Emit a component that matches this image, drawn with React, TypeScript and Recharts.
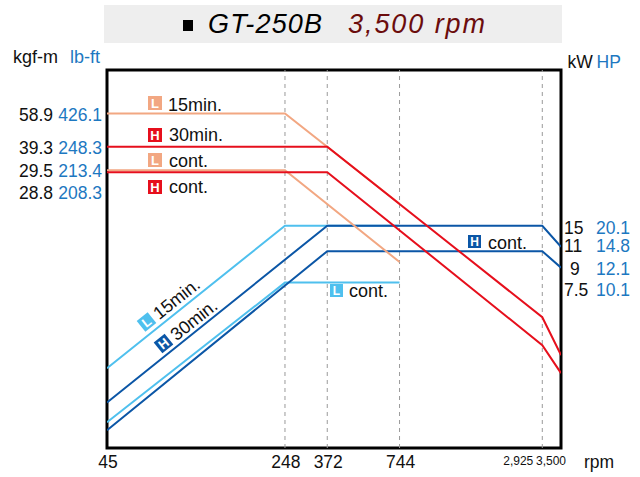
import { LineChart, Line, XAxis, YAxis, ReferenceLine, ReferenceArea } from "recharts";

// rpm axis
const rpmTicks = [45, 248, 372, 744, 2925, 3500];
const rpmLabels = ["45", "248", "372", "744", "2,925", "3,500"];
const gridRpm = [248, 372, 744, 2925];

// left axis: torque (kgf-m / lb-ft)
const torqueTicks = [58.9, 39.3, 29.5, 28.8];
const torqueLbft = ["426.1", "248.3", "213.4", "208.3"];

// right axis: power (kW / HP)
const powerTicks = [15, 11, 9, 7.5];
const powerHp = ["20.1", "14.8", "12.1", "10.1"];

// torque curves (kgf-m)
const torqueL15 = [
  { rpm: 45, v: 58.9 },
  { rpm: 248, v: 58.9 },
  { rpm: 744, v: 19.6 },
];
const torqueH30 = [
  { rpm: 45, v: 39.3 },
  { rpm: 372, v: 39.3 },
  { rpm: 2925, v: 4.92 },
  { rpm: 3500, v: 3.1 },
];
const torqueLCont = [
  { rpm: 45, v: 29.5 },
  { rpm: 248, v: 29.5 },
  { rpm: 744, v: 9.64 },
];
const torqueHCont = [
  { rpm: 45, v: 28.8 },
  { rpm: 372, v: 28.8 },
  { rpm: 2925, v: 3.5 },
  { rpm: 3500, v: 2.49 },
];

// power curves (kW)
const powerL15 = [
  { rpm: 45, v: 2.64 },
  { rpm: 248, v: 15 },
  { rpm: 744, v: 15 },
];
const powerH30 = [
  { rpm: 45, v: 1.74 },
  { rpm: 372, v: 15 },
  { rpm: 2925, v: 15 },
  { rpm: 3500, v: 11.6 },
];
const powerLCont = [
  { rpm: 45, v: 1.37 },
  { rpm: 248, v: 7.5 },
  { rpm: 744, v: 7.5 },
];
const powerHCont = [
  { rpm: 45, v: 1.24 },
  { rpm: 372, v: 11 },
  { rpm: 2925, v: 11 },
  { rpm: 3500, v: 9 },
];

const FONT = '"Liberation Sans", Arial, Helvetica, sans-serif';
const SALMON = "#f2a782";
const RED = "#e60f1c";
const LIGHT = "#4fc0ee";
const DARK = "#0b56a6";
const BLUE_TXT = "#1d78c1";
const INK = "#111";

// label nudges so stacked labels don't collide (same as the original sheet)
const leftNudge: Record<number, number> = { 58.9: 1.5, 39.3: 1.3, 29.5: 0.8, 28.8: 21 };
const rightNudge: Record<number, number> = { 15: 2.3, 11: -5, 9: 1.3, 7.5: 7.4 };

const LeftTick = (props: any) => {
  const { y, payload } = props;
  const i = torqueTicks.indexOf(payload.value);
  const yy = y + (leftNudge[payload.value] ?? 0);
  return (
    <g fontFamily={FONT} fontSize={17.5}>
      <text x={53} y={yy} dy="0.36em" textAnchor="end" fill={INK}>
        {payload.value}
      </text>
      <text x={102} y={yy} dy="0.36em" textAnchor="end" fill={BLUE_TXT}>
        {torqueLbft[i]}
      </text>
    </g>
  );
};

const RightTick = (props: any) => {
  const { y, payload } = props;
  const i = powerTicks.indexOf(payload.value);
  const yy = y + (rightNudge[payload.value] ?? 0);
  return (
    <g fontFamily={FONT} fontSize={17.5}>
      <text x={payload.value === 9 ? 570 : 564} y={yy} dy="0.36em" fill={INK}>
        {payload.value}
      </text>
      <text x={630} y={yy} dy="0.36em" textAnchor="end" fill={BLUE_TXT}>
        {powerHp[i]}
      </text>
    </g>
  );
};

const RpmTick = (props: any) => {
  const { x, payload } = props;
  const i = rpmTicks.indexOf(payload.value);
  if (payload.value >= 2925) {
    return (
      <text x={x + (payload.value === 2925 ? -9 : 5)} y={465} textAnchor="end" fontFamily={FONT} fontSize={12} fill={INK}>
        {rpmLabels[i]}
      </text>
    );
  }
  return (
    <text x={x + 1} y={468} textAnchor="middle" fontFamily={FONT} fontSize={17.5} fill={INK}>
      {rpmLabels[i]}
    </text>
  );
};

function Badge({ x, y, letter, color, size = 14 }: { x: number; y: number; letter: string; color: string; size?: number }) {
  return (
    <g>
      <rect x={x} y={y} width={size} height={size} fill={color} />
      <text x={x + size / 2} y={y + size - 2.5} textAnchor="middle" fontFamily={FONT} fontWeight="bold" fontSize={size - 1} fill="#fff">
        {letter}
      </text>
    </g>
  );
}

function Overlay() {
  const txt = { fontFamily: FONT, fontSize: 18, fill: INK };
  return (
    <svg width={640} height={477} style={{ position: "absolute", left: 0, top: 0, pointerEvents: "none" }}>
      {/* title */}
      <rect x={104} y={5} width={458} height={38} fill="#eeeeee" />
      <rect x={183} y={20} width={10} height={11} fill="#000" />
      <text x={208} y={33} fontFamily={FONT} fontStyle="italic" fontSize={27} fill="#000" textLength={114} lengthAdjust="spacing">
        GT-250B
      </text>
      <text x={348} y={33} fontFamily={FONT} fontStyle="italic" fontSize={27} fill="#6b0c0c" textLength={137} lengthAdjust="spacing">
        3,500 rpm
      </text>

      {/* unit labels */}
      <text x={13} y={62.5} {...txt}>kgf-m</text>
      <text x={70} y={62.5} {...txt} fill={BLUE_TXT}>lb-ft</text>
      <text x={567.5} y={68.3} {...txt} fontSize={17.5}>kW</text>
      <text x={596.5} y={68.3} {...txt} fontSize={17.5} fill={BLUE_TXT}>HP</text>
      <text x={584} y={468} {...txt} fontSize={17.5}>rpm</text>

      {/* torque curve labels */}
      <Badge x={148} y={96} letter="L" color={SALMON} />
      <text x={168} y={111} {...txt}>15min.</text>
      <Badge x={148} y={128} letter="H" color={RED} />
      <text x={169} y={141} {...txt}>30min.</text>
      <Badge x={148} y={153} letter="L" color={SALMON} />
      <text x={169} y={166.5} {...txt}>cont.</text>
      <Badge x={148} y={180} letter="H" color={RED} />
      <text x={169} y={193} {...txt}>cont.</text>

      {/* power curve labels */}
      <g transform="translate(146.5,322) rotate(-38.5)">
        <Badge x={-7} y={-7} letter="L" color={LIGHT} />
        <text x={11} y={6.5} {...txt}>15min.</text>
      </g>
      <g transform="translate(163.5,343.5) rotate(-38.5)">
        <Badge x={-7} y={-7} letter="H" color={DARK} />
        <text x={11.5} y={6.5} {...txt}>30min.</text>
      </g>
      <Badge x={330} y={284} letter="L" color={LIGHT} size={13} />
      <text x={349} y={297} {...txt}>cont.</text>
      <Badge x={468} y={235} letter="H" color={DARK} size={13} />
      <text x={488} y={248.5} {...txt}>cont.</text>
    </svg>
  );
}

export default function App() {
  return (
    <div style={{ position: "absolute", left: 0, top: 0, width: 640, height: 477, background: "#fff" }}>
      <LineChart width={640} height={477} margin={{ top: 70, right: 0, bottom: 0, left: 0 }}>
        <XAxis
          dataKey="rpm"
          type="number"
          scale="log"
          domain={[45, 3500]}
          ticks={rpmTicks}
          allowDataOverflow
          axisLine={false}
          tickLine={false}
          height={29}
          tick={<RpmTick />}
          interval={0}
        />
        <YAxis
          yAxisId="t"
          type="number"
          scale="log"
          domain={[1, 100]}
          ticks={torqueTicks}
          allowDataOverflow
          axisLine={false}
          tickLine={false}
          width={107}
          tick={<LeftTick />}
          interval={0}
        />
        <YAxis
          yAxisId="p"
          orientation="right"
          type="number"
          scale="log"
          domain={[1, 100]}
          ticks={powerTicks}
          allowDataOverflow
          axisLine={false}
          tickLine={false}
          width={79}
          tick={<RightTick />}
          interval={0}
        />
        {gridRpm.map((r) => (
          <ReferenceLine key={r} x={r} yAxisId="t" stroke="#9a9a9a" strokeDasharray="4 4" strokeWidth={1} />
        ))}
        <Line yAxisId="p" data={powerL15} dataKey="v" stroke={LIGHT} strokeWidth={2} dot={false} isAnimationActive={false} />
        <Line yAxisId="p" data={powerLCont} dataKey="v" stroke={LIGHT} strokeWidth={2} dot={false} isAnimationActive={false} />
        <Line yAxisId="p" data={powerH30} dataKey="v" stroke={DARK} strokeWidth={2} dot={false} isAnimationActive={false} />
        <Line yAxisId="p" data={powerHCont} dataKey="v" stroke={DARK} strokeWidth={2} dot={false} isAnimationActive={false} />
        <Line yAxisId="t" data={torqueL15} dataKey="v" stroke={SALMON} strokeWidth={2} dot={false} isAnimationActive={false} />
        <Line yAxisId="t" data={torqueLCont} dataKey="v" stroke={SALMON} strokeWidth={2} dot={false} isAnimationActive={false} />
        <Line yAxisId="t" data={torqueH30} dataKey="v" stroke={RED} strokeWidth={2} dot={false} isAnimationActive={false} />
        <Line yAxisId="t" data={torqueHCont} dataKey="v" stroke={RED} strokeWidth={2} dot={false} isAnimationActive={false} />
        <ReferenceArea
          yAxisId="t"
          x1={45}
          x2={3500}
          y1={1}
          y2={100}
          fill="none"
          fillOpacity={0}
          stroke="#000"
          strokeWidth={3}
          ifOverflow="visible"
        />
      </LineChart>
      <Overlay />
    </div>
  );
}
